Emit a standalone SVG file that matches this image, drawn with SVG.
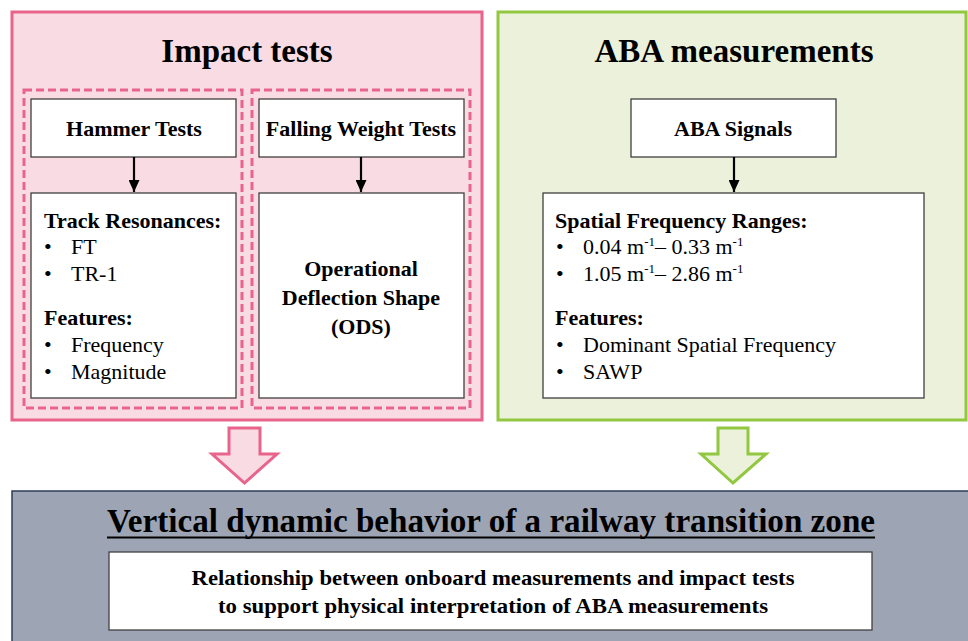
<svg xmlns="http://www.w3.org/2000/svg" width="968" height="641" viewBox="0 0 968 641" font-family="'Liberation Serif', 'Times New Roman', 'DejaVu Serif', serif">
<defs>
<marker id="ah" markerWidth="12" markerHeight="11" refX="12" refY="5.5" orient="auto" markerUnits="userSpaceOnUse" viewBox="0 0 12 11">
<path d="M0,0 L12,5.5 L0,11 Z" fill="#000"/>
</marker>
</defs>
<style>
text{font-family:'Liberation Serif','Times New Roman','DejaVu Serif',serif;fill:#000}
.t{font-size:33px;font-weight:bold;text-anchor:middle}
.h{font-size:22px;font-weight:bold}
.hc{font-size:22px;font-weight:bold;text-anchor:middle}
.n{font-size:22px}
.box{fill:#fff;stroke:#404040;stroke-width:1.3}
.dash{fill:none;stroke:#E9648C;stroke-width:3;stroke-dasharray:8 4}
.conn{stroke:#000;stroke-width:2.2;fill:none}
.sup{font-size:13px}
</style>
<rect width="968" height="641" fill="#fff"/>

<g id="impact-tests">
<rect x="12" y="12" width="470" height="408" fill="#F9DCE3" stroke="#E9648C" stroke-width="3"/>
<text class="t" x="247" y="62">Impact tests</text>
<rect class="dash" x="24" y="90" width="218" height="318"/>
<rect class="dash" x="252" y="90" width="218" height="318"/>
</g>

<g id="aba-measurements">
<rect x="498" y="12" width="468" height="408" fill="#EBF1DA" stroke="#92C740" stroke-width="3"/>
<text class="t" x="734" y="62">ABA measurements</text>
</g>

<g id="hammer-tests">
<rect class="box" x="31" y="99" width="205" height="58"/>
<text class="hc" x="134" y="136">Hammer Tests</text>
</g>

<g id="falling-weight-tests">
<rect class="box" x="259" y="99" width="205" height="58"/>
<text class="hc" x="361" y="136">Falling Weight Tests</text>
</g>

<g id="aba-signals">
<rect class="box" x="631" y="99" width="205" height="58"/>
<text class="hc" x="733" y="136">ABA Signals</text>
</g>

<g id="track-resonances">
<rect class="box" x="31" y="193" width="205" height="205"/>
<text class="h" x="44" y="228">Track Resonances:</text>
<text class="n" x="44" y="254">•</text><text class="n" x="71" y="254">FT</text>
<text class="n" x="44" y="281">•</text><text class="n" x="71" y="281">TR-1</text>
<text class="h" x="44" y="325">Features:</text>
<text class="n" x="44" y="352">•</text><text class="n" x="71" y="352">Frequency</text>
<text class="n" x="44" y="379">•</text><text class="n" x="71" y="379">Magnitude</text>
</g>

<g id="ods">
<rect class="box" x="259" y="193" width="205" height="205"/>
<text class="hc" x="361" y="276">Operational</text>
<text class="hc" x="361" y="305">Deflection Shape</text>
<text class="hc" x="361" y="334">(ODS)</text>
</g>

<g id="spatial-frequency">
<rect class="box" x="543" y="193" width="381" height="205"/>
<text class="h" x="555" y="228">Spatial Frequency Ranges:</text>
<text class="n" x="556" y="254">•</text>
<text class="n" x="583" y="254">0.04 m<tspan class="sup" dy="-8">-1</tspan><tspan dy="8">– 0.33 m</tspan><tspan class="sup" dy="-8">-1</tspan></text>
<text class="n" x="556" y="281">•</text>
<text class="n" x="583" y="281">1.05 m<tspan class="sup" dy="-8">-1</tspan><tspan dy="8">– 2.86 m</tspan><tspan class="sup" dy="-8">-1</tspan></text>
<text class="h" x="555" y="325">Features:</text>
<text class="n" x="556" y="352">•</text><text class="n" x="583" y="352">Dominant Spatial Frequency</text>
<text class="n" x="556" y="379">•</text><text class="n" x="583" y="379">SAWP</text>
</g>

<g id="vertical-dynamic-behavior">
<rect x="12" y="491" width="966" height="160" fill="#9DA4B3" stroke="#2E3D5A" stroke-width="1.5"/>
<text class="t" x="491" y="532" textLength="768" lengthAdjust="spacingAndGlyphs">Vertical dynamic behavior of a railway transition zone</text>
<line x1="107" y1="537.5" x2="875" y2="537.5" stroke="#000" stroke-width="2"/>
<rect class="box" x="109" y="552" width="763" height="78"/>
<text class="hc" x="493" y="585" textLength="603" lengthAdjust="spacingAndGlyphs">Relationship between onboard measurements and impact tests</text>
<text class="hc" x="493" y="613" textLength="550" lengthAdjust="spacingAndGlyphs">to support physical interpretation of ABA measurements</text>
</g>

<g id="connectors">
<line class="conn" x1="134" y1="157" x2="134" y2="192" marker-end="url(#ah)"/>
<line class="conn" x1="361" y1="157" x2="361" y2="192" marker-end="url(#ah)"/>
<line class="conn" x1="734" y1="157" x2="734" y2="192" marker-end="url(#ah)"/>
<path d="M229,428 L260,428 L260,454 L277,454 L244.5,483 L212,454 L229,454 Z" fill="#F9DCE3" stroke="#E9648C" stroke-width="3" stroke-linejoin="miter"/>
<path d="M718,428 L748,428 L748,454 L766,454 L733,483 L701,454 L718,454 Z" fill="#EBF1DA" stroke="#92C740" stroke-width="3" stroke-linejoin="miter"/>
</g>
</svg>
